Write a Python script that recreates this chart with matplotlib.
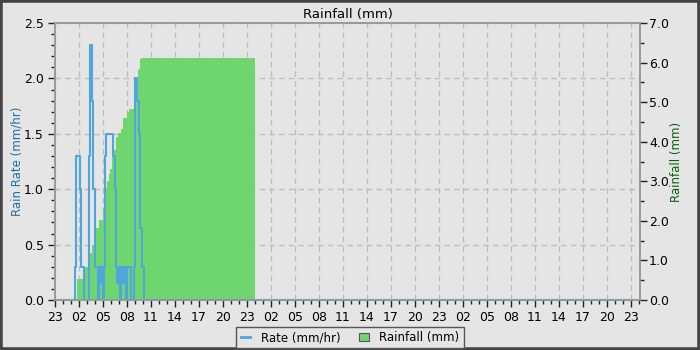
import numpy as np
import matplotlib
matplotlib.use("Agg")
from matplotlib import pyplot as plt
from matplotlib.lines import Line2D
from matplotlib.patches import Patch, Rectangle
from matplotlib.ticker import MultipleLocator, FuncFormatter

# hours since 23:00 on the first day
start_hour = 23
rate_hours = [0.4, 2.5, 2.6, 3.1, 3.25, 3.6, 4.2, 4.25, 4.4, 4.6, 4.75, 5.0, 5.35, 5.5,
              5.6, 5.75, 5.95, 6.15, 6.2, 6.4, 7.2, 7.5, 7.6, 7.8, 7.95, 8.1, 8.2, 8.55,
              8.7, 8.85, 8.95, 9.45, 9.85, 10.0, 10.3, 10.5, 10.6, 10.85, 11.15, 72.25]
rate_values = [0.0, 0.3, 1.3, 1.0, 0.3, 0.0, 0.3, 1.3, 2.3, 1.8, 1.0, 0.3, 0.0, 0.3,
               0.15, 0.3, 0.0, 0.3, 1.3, 1.5, 1.3, 1.0, 0.3, 0.15, 0.3, 0.0, 0.3, 0.15,
               0.3, 0.0, 0.3, 0.0, 0.3, 2.0, 1.8, 1.5, 0.65, 0.3, 0.0, 0.0]

rain_hours = [2.7, 3.6, 4.15, 4.4, 4.6, 5.0, 5.5, 5.95, 6.25, 6.55, 6.75, 6.9, 7.1, 7.3,
              7.6, 7.9, 8.2, 8.55, 9.05, 9.25, 9.9, 10.1, 10.35, 10.5, 10.6, 10.75, 25.0]
rain_mm = [0.53, 0.84, 1.01, 1.19, 1.39, 1.82, 2.02, 2.33, 2.83, 3.0, 3.18, 3.31, 3.61, 3.79,
           4.12, 4.22, 4.32, 4.6, 4.75, 4.83, 5.10, 5.33, 5.81, 5.84, 6.09, 6.12, 6.12]

bg = "#e5e5e5"
blue = "#4ea6dc"
green = "#6fd66f"

plt.rcParams["font.family"] = "DejaVu Sans"
plt.rcParams["font.size"] = 9

fig = plt.figure(figsize=(7, 3.5), dpi=100, facecolor=bg)
ax = fig.add_axes([0.0786, 0.143, 0.8357, 0.791])
ax.set_facecolor(bg)
ax2 = ax.twinx()
ax2.patch.set_visible(False)

ax2.fill_between(rain_hours, rain_mm, step="post", color=green, linewidth=0, zorder=1)
ax2.plot(rate_hours, rate_values, drawstyle="steps-post", color=blue, lw=1.5,
         transform=ax.transData, zorder=2, clip_on=False)

ax.set_xlim(0, 73.15)
ax.set_ylim(0, 2.5)
ax2.set_ylim(0, 7.0)
ax2.set_xlim(0, 73.15)

ax.xaxis.set_major_locator(MultipleLocator(3))
ax.xaxis.set_minor_locator(MultipleLocator(1))
ax.xaxis.set_major_formatter(FuncFormatter(lambda v, p: "%02d" % ((start_hour + int(round(v))) % 24)))
ax.yaxis.set_major_locator(MultipleLocator(0.5))
ax.yaxis.set_minor_locator(MultipleLocator(0.1))
ax.yaxis.set_major_formatter(FuncFormatter(lambda v, p: "%.1f" % v))
ax2.yaxis.set_major_locator(MultipleLocator(1.0))
ax2.yaxis.set_minor_locator(MultipleLocator(0.5))
ax2.yaxis.set_major_formatter(FuncFormatter(lambda v, p: "%.1f" % v))

for a in (ax, ax2):
    a.tick_params(which="major", direction="out", length=5, width=1, color="#222222",
                  labelsize=9, pad=3)
    a.tick_params(which="minor", direction="out", length=3, width=1, color="#222222")
    for s in a.spines.values():
        s.set_color("#999999")
        s.set_linewidth(1.2)
ax2.tick_params(which="major", pad=1.5)

ax.grid(True, which="major", linestyle=(0, (4, 3)), color="#bdbdbd", linewidth=1)

ax.set_title("Rainfall (mm)", fontsize=9.5, pad=4)
ax.set_ylabel("Rain Rate (mm/hr)", color="#1f6fa5", fontsize=8.5, labelpad=0)
ax2.set_ylabel("Rainfall (mm)", color="#0b5f0b", fontsize=8.5, labelpad=1)

handles = [Line2D([], [], color=blue, lw=2),
           Patch(facecolor=green, edgecolor="#555555", linewidth=0.8)]
leg = fig.legend(handles, ["Rate (mm/hr)", "Rainfall (mm)"], loc="lower center",
                 bbox_to_anchor=(0.5, -0.012), ncol=2, fontsize=8.5, fancybox=False,
                 framealpha=1, facecolor=bg, edgecolor="#555555", handlelength=0.8,
                 handleheight=0.7, handletextpad=0.9, columnspacing=1.6, borderpad=0.35)
leg.get_frame().set_linewidth(1)

fig.patches.append(Rectangle((0, 0), 1, 1, transform=fig.transFigure, fill=False,
                             edgecolor="#444444", linewidth=4))

fig.savefig("out.png", facecolor=bg)
